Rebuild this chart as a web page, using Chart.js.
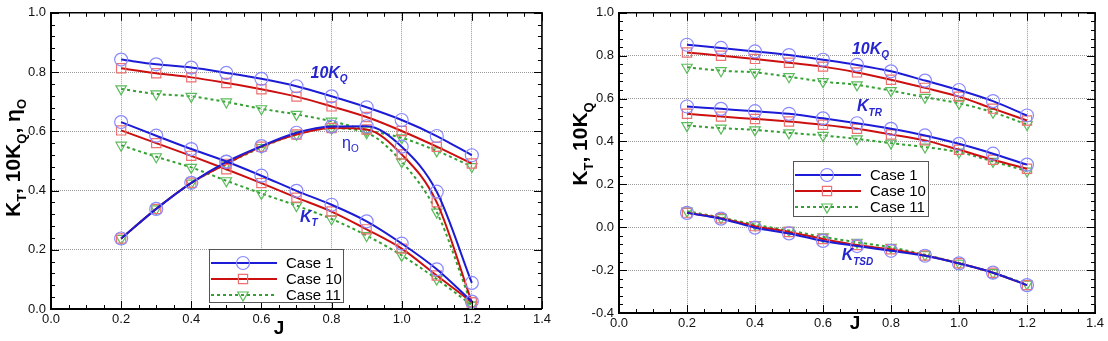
<!DOCTYPE html>
<html lang="en">
<head>
  <meta charset="UTF-8" />
  <title>KT, 10KQ vs J</title>
  <script src="https://cdn.jsdelivr.net/npm/chart.js"></script>
  <style>
    body { margin: 0; background: #fff; font-family: 'Liberation Sans', Arial, sans-serif; }
    .box { position: absolute; top: 0; width: 554px; height: 341px; }
    #leftBox { left: 0; }
    #rightBox { left: 554px; }
  </style>
</head>
<body>
<div class="box" id="leftBox"><canvas id="leftChart" width="554" height="341"></canvas></div>
<div class="box" id="rightBox"><canvas id="rightChart" width="554" height="341"></canvas></div>

<script>
  // advance ratio
  const J = [0.2, 0.3, 0.4, 0.5, 0.6, 0.7, 0.8, 0.9, 1.0, 1.1, 1.2];
  const caseNames = ['Case 1', 'Case 10', 'Case 11'];

  // left chart: 10KQ, KT, eta_O
  const kq10_c1  = [0.842, 0.826, 0.815, 0.797, 0.777, 0.752, 0.718, 0.681, 0.638, 0.584, 0.519];
  const kq10_c10 = [0.813, 0.796, 0.782, 0.763, 0.742, 0.717, 0.684, 0.648, 0.601, 0.548, 0.491];
  const kq10_c11 = [0.743, 0.726, 0.718, 0.699, 0.676, 0.657, 0.634, 0.604, 0.578, 0.534, 0.481];
  const kt_c1    = [0.631, 0.585, 0.540, 0.498, 0.450, 0.399, 0.352, 0.296, 0.221, 0.134, 0.025];
  const kt_c10   = [0.603, 0.560, 0.517, 0.472, 0.425, 0.376, 0.329, 0.269, 0.204, 0.113, 0.023];
  const kt_c11   = [0.553, 0.514, 0.478, 0.433, 0.390, 0.349, 0.304, 0.248, 0.181, 0.101, 0.013];
  const eta_c1   = [0.238, 0.338, 0.426, 0.497, 0.550, 0.595, 0.616, 0.617, 0.548, 0.396, 0.088];
  const eta_c10  = [0.238, 0.338, 0.426, 0.490, 0.548, 0.589, 0.611, 0.606, 0.522, 0.360, 0.023];
  const eta_c11  = [0.238, 0.338, 0.425, 0.490, 0.545, 0.590, 0.610, 0.595, 0.497, 0.327, 0.013];

  // right chart: 10KQ, KTR, KTSD
  const r_kq10_c1  = [0.851, 0.836, 0.820, 0.803, 0.781, 0.757, 0.727, 0.684, 0.640, 0.588, 0.521];
  const r_kq10_c10 = [0.815, 0.800, 0.785, 0.767, 0.749, 0.722, 0.688, 0.650, 0.609, 0.553, 0.498];
  const r_kq10_c11 = [0.746, 0.730, 0.722, 0.702, 0.679, 0.664, 0.637, 0.606, 0.578, 0.536, 0.479];
  const ktr_c1     = [0.563, 0.552, 0.541, 0.529, 0.508, 0.485, 0.459, 0.428, 0.389, 0.343, 0.292];
  const ktr_c10    = [0.529, 0.516, 0.505, 0.493, 0.478, 0.459, 0.433, 0.405, 0.361, 0.315, 0.273];
  const ktr_c11    = [0.474, 0.462, 0.454, 0.440, 0.428, 0.412, 0.392, 0.374, 0.350, 0.307, 0.262];
  const ktsd_c1    = [0.067, 0.040, -0.002, -0.029, -0.064, -0.088, -0.110, -0.133, -0.169, -0.212, -0.270];
  const ktsd_c10   = [0.068, 0.042, 0.005, -0.022, -0.055, -0.083, -0.103, -0.132, -0.168, -0.212, -0.270];
  const ktsd_c11   = [0.075, 0.045, 0.012, -0.015, -0.045, -0.070, -0.094, -0.128, -0.168, -0.212, -0.265];

  // look of each case
  const caseStyle = [
    { line: '#1c1cd6', mark: '#8a8aff', shape: 'circle', r: 6.5, rot: 0, dash: [] },
    { line: '#cc1010', mark: '#ee7070', shape: 'rect', r: 6.5, rot: 0, dash: [] },
    { line: '#33a033', mark: '#5cbc5c', shape: 'triangle', r: 6, rot: 180, dash: [3, 3] }
  ];

  function series(values, ci) {
    const s = caseStyle[ci];
    return {
      label: caseNames[ci],
      data: J.map((x, i) => ({ x: x, y: values[i] })),
      borderColor: s.line,
      borderWidth: 2,
      borderDash: s.dash,
      cubicInterpolationMode: 'monotone',
      pointStyle: s.shape,
      pointRotation: s.rot,
      pointRadius: s.r,
      pointBorderColor: s.mark,
      pointBorderWidth: 1.2,
      pointBackgroundColor: 'rgba(0,0,0,0)',
      fill: false
    };
  }

  function fmt(v) {
    const r = Math.round(v * 10) / 10;
    return (r === 0 ? 0 : r).toFixed(1);
  }

  // text with subscripts: parts = [[text, isSub], ...]
  function richWidth(ctx, parts, size, style) {
    let w = 0;
    parts.forEach(p => {
      ctx.font = style + ' ' + (p[1] ? Math.round(size * 0.62) : size) + 'px "Liberation Sans", Arial, sans-serif';
      w += ctx.measureText(p[0]).width;
    });
    return w;
  }
  function drawRich(ctx, parts, x, y, size, style, color) {
    ctx.fillStyle = color;
    ctx.textBaseline = 'alphabetic';
    ctx.textAlign = 'left';
    let cx = x;
    parts.forEach(p => {
      const fs = p[1] ? Math.round(size * 0.62) : size;
      ctx.font = style + ' ' + fs + 'px "Liberation Sans", Arial, sans-serif';
      ctx.fillText(p[0], cx, p[1] ? y + size * 0.28 : y);
      cx += ctx.measureText(p[0]).width;
    });
  }

  function markerAt(ctx, s, x, y) {
    ctx.save();
    ctx.strokeStyle = s.mark;
    ctx.lineWidth = 1.2;
    ctx.setLineDash([]);
    ctx.beginPath();
    if (s.shape === 'circle') {
      ctx.arc(x, y, s.r, 0, Math.PI * 2);
    } else if (s.shape === 'rect') {
      ctx.rect(x - s.r * 0.707, y - s.r * 0.707, s.r * 1.414, s.r * 1.414);
    } else {
      ctx.moveTo(x - s.r * 0.87, y - s.r * 0.5);
      ctx.lineTo(x + s.r * 0.87, y - s.r * 0.5);
      ctx.lineTo(x, y + s.r);
      ctx.closePath();
    }
    ctx.stroke();
    ctx.restore();
  }

  // frame, inner ticks, axis titles, curve labels and legend
  const decor = {
    id: 'decor',
    afterDraw(chart, args, opts) {
      const ctx = chart.ctx;
      const a = chart.chartArea;
      const xs = chart.scales.x, ys = chart.scales.y;
      ctx.save();

      // inner tick marks on all four sides
      ctx.strokeStyle = '#000';
      ctx.lineWidth = 1;
      for (let v = xs.min; v <= xs.max + 1e-9; v += 0.05) {
        const px = Math.round(xs.getPixelForValue(v)) + 0.5;
        const major = Math.abs(v / 0.2 - Math.round(v / 0.2)) < 1e-6;
        const len = major ? 8 : 4;
        ctx.beginPath();
        ctx.moveTo(px, a.bottom); ctx.lineTo(px, a.bottom - len);
        ctx.moveTo(px, a.top); ctx.lineTo(px, a.top + len);
        ctx.stroke();
      }
      for (let v = ys.min; v <= ys.max + 1e-9; v += 0.04) {
        const py = Math.round(ys.getPixelForValue(v)) + 0.5;
        const major = Math.abs(v / 0.2 - Math.round(v / 0.2)) < 1e-6;
        const len = major ? 8 : 4;
        ctx.beginPath();
        ctx.moveTo(a.left, py); ctx.lineTo(a.left + len, py);
        ctx.moveTo(a.right, py); ctx.lineTo(a.right - len, py);
        ctx.stroke();
      }

      // top and right edges of the frame
      ctx.lineWidth = 1.6;
      ctx.beginPath();
      ctx.moveTo(a.left, a.top); ctx.lineTo(a.right, a.top); ctx.lineTo(a.right, a.bottom);
      ctx.stroke();

      // x title
      ctx.font = 'bold 19px "Liberation Sans", Arial, sans-serif';
      ctx.fillStyle = '#000';
      ctx.textAlign = 'center';
      ctx.textBaseline = 'middle';
      ctx.fillText('J', opts.jX, opts.jY);

      // y title, rotated
      const w = richWidth(ctx, opts.yTitle, 21, 'bold');
      ctx.save();
      ctx.translate(opts.yTitleX, opts.yTitleY);
      ctx.rotate(-Math.PI / 2);
      drawRich(ctx, opts.yTitle, -w / 2, 0, 21, 'bold', '#000');
      ctx.restore();

      // curve labels in data coordinates
      opts.labels.forEach(l => {
        drawRich(ctx, l.parts, xs.getPixelForValue(l.x), ys.getPixelForValue(l.y), l.size || 16,
          l.style || 'italic bold', '#2626d0');
      });

      // legend box
      const lg = opts.legend;
      ctx.fillStyle = '#fff';
      ctx.fillRect(lg.x, lg.y, lg.w, lg.h);
      ctx.strokeStyle = '#555';
      ctx.lineWidth = 1;
      ctx.strokeRect(lg.x + 0.5, lg.y + 0.5, lg.w, lg.h);
      caseStyle.forEach((s, i) => {
        const ry = lg.y + 14 + i * 16;
        ctx.strokeStyle = s.line;
        ctx.lineWidth = 2;
        ctx.setLineDash(s.dash);
        ctx.beginPath();
        ctx.moveTo(lg.x + 2, ry); ctx.lineTo(lg.x + 68, ry);
        ctx.stroke();
        ctx.setLineDash([]);
        markerAt(ctx, s, lg.x + 34, ry);
        ctx.fillStyle = '#000';
        ctx.font = '15px "Liberation Sans", Arial, sans-serif';
        ctx.textAlign = 'left';
        ctx.textBaseline = 'middle';
        ctx.fillText(caseNames[i], lg.x + 77, ry + 1);
      });
      ctx.restore();
    }
  };

  function scaleOpts(min, max, yWidth, xHeight) {
    const tickFont = { family: '"Liberation Sans", Arial, sans-serif', size: 13 };
    return {
      x: {
        type: 'linear', min: 0, max: 1.4,
        afterFit: s => { s.height = xHeight; },
        ticks: { stepSize: 0.2, color: '#111', font: tickFont, padding: 3, callback: fmt },
        grid: { color: '#9a9a9a', lineWidth: 1, drawTicks: false },
        border: { color: '#000', width: 2, dash: [1, 1] }
      },
      y: {
        type: 'linear', min: min, max: max,
        afterFit: s => { s.width = yWidth; },
        ticks: { stepSize: 0.2, color: '#111', font: tickFont, padding: 5, callback: fmt },
        grid: { color: '#9a9a9a', lineWidth: 1, drawTicks: false },
        border: { color: '#000', width: 2, dash: [1, 1] }
      }
    };
  }

  new Chart(document.getElementById('leftChart'), {
    type: 'line',
    data: {
      datasets: [
        series(kq10_c1, 0), series(kt_c1, 0), series(eta_c1, 0),
        series(kq10_c10, 1), series(kt_c10, 1), series(eta_c10, 1),
        series(kq10_c11, 2), series(kt_c11, 2), series(eta_c11, 2)
      ]
    },
    options: {
      responsive: false,
      animation: false,
      layout: { padding: { top: 11, right: 9, left: 0, bottom: 0 } },
      scales: scaleOpts(0, 1, 51, 32),
      plugins: {
        legend: { display: false },
        tooltip: { enabled: false },
        decor: {
          jX: 279, jY: 329,
          yTitleX: 20, yTitleY: 158,
          yTitle: [['K', false], ['T', true], [', 10K', false], ['Q', true], [', \u03b7', false], ['O', true]],
          labels: [
            { x: 0.74, y: 0.78, parts: [['10K', false], ['Q', true]] },
            { x: 0.83, y: 0.545, parts: [['\u03b7', false], ['O', true]], style: 'normal' },
            { x: 0.71, y: 0.295, parts: [['K', false], ['T', true]] }
          ],
          legend: { x: 209, y: 249, w: 134, h: 53 }
        }
      }
    },
    plugins: [decor]
  });

  new Chart(document.getElementById('rightChart'), {
    type: 'line',
    data: {
      datasets: [
        series(r_kq10_c1, 0), series(ktr_c1, 0), series(ktsd_c1, 0),
        series(r_kq10_c10, 1), series(ktr_c10, 1), series(ktsd_c10, 1),
        series(r_kq10_c11, 2), series(ktr_c11, 2), series(ktsd_c11, 2)
      ]
    },
    options: {
      responsive: false,
      animation: false,
      layout: { padding: { top: 12, right: 13, left: 0, bottom: 0 } },
      scales: scaleOpts(-0.4, 1, 65, 28),
      plugins: {
        legend: { display: false },
        tooltip: { enabled: false },
        decor: {
          jX: 301, jY: 324,
          yTitleX: 33, yTitleY: 144,
          yTitle: [['K', false], ['T', true], [', 10K', false], ['Q', true]],
          labels: [
            { x: 0.685, y: 0.81, parts: [['10K', false], ['Q', true]] },
            { x: 0.70, y: 0.54, parts: [['K', false], ['TR', true]] },
            { x: 0.655, y: -0.155, parts: [['K', false], ['TSD', true]] }
          ],
          legend: { x: 239, y: 161, w: 135, h: 55 }
        }
      }
    },
    plugins: [decor]
  });
</script>
</body>
</html>
